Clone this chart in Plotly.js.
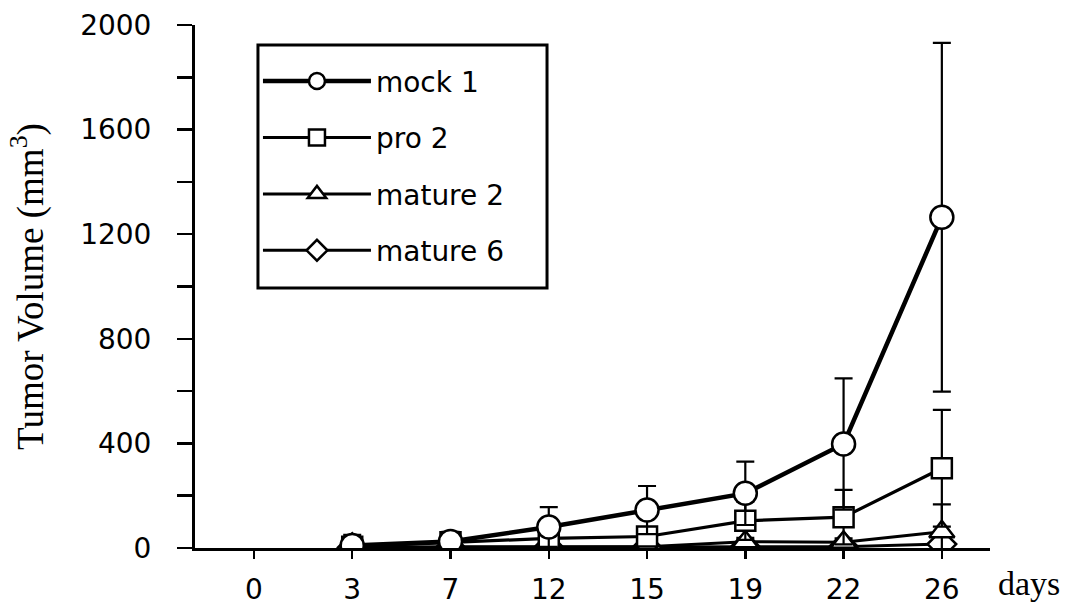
<!DOCTYPE html>
<html>
<head>
<meta charset="utf-8">
<script src="https://cdn.plot.ly/plotly-3.0.1.min.js"></script>
<style>
  html, body { margin: 0; padding: 0; background: #fff; }
  #chart { width: 1074px; height: 605px; }
</style>
</head>
<body>
<div id="chart"></div>
<script>
// Days (category tick labels)
const days = ['0', '3', '7', '12', '15', '19', '22', '26'];

// Tumor volume (mm^3) means and error bars; day 0 has no plotted point
const mock1     = [null, 10, 25, 80, 145, 209, 398, 1265];
const mock1Err  = [null, 40, 37, 76, 92, 121, 251, 667];
const pro2      = [null, 5, 22, 37, 44, 104, 118, 305];
const pro2Err   = [null, 5, 12, 12, 12, 73, 104, 223];
const mature2    = [null, 2, 5, 5, 5, 24, 22, 62];
const mature2Err = [null, 2, 4, 4, 4, 15, 15, 105];
const mature6    = [null, 2, 3, 3, 3, 5, 5, 15];
const mature6Err = [null, 1, 2, 2, 2, 3, 3, 10];

const seriesNames = ['mock 1', 'pro 2', 'mature 2', 'mature 6'];
const yTicks = [0, 400, 800, 1200, 1600, 2000];

const labelFont = { family: 'DejaVu Sans, Arial, sans-serif', size: 28, color: '#000' };
const serifFont = 'Liberation Serif, Times New Roman, serif';

function makeTrace(name, rank, y, err, symbol, lw, size) {
  return {
    type: 'scatter',
    mode: 'lines+markers',
    name: name,
    legendgroup: name,
    legendrank: rank,
    x: days,
    y: y,
    connectgaps: false,
    line: { color: '#000', width: lw },
    marker: { symbol: symbol, size: size, color: '#fff', line: { color: '#000', width: 2.5 } },
    error_y: { type: 'data', array: err, visible: true, color: '#000', thickness: 2.2, width: 9 }
  };
}

// drawn bottom-up so mock 1 sits on top; legendrank keeps mock 1 first in the legend
const traces = [
  makeTrace(seriesNames[3], 4, mature6, mature6Err, 'diamond', 3, 22),
  makeTrace(seriesNames[2], 3, mature2, mature2Err, 'triangle-up', 3, 22),
  makeTrace(seriesNames[1], 2, pro2, pro2Err, 'square', 3.2, 20),
  makeTrace(seriesNames[0], 1, mock1, mock1Err, 'circle', 4.5, 23)
];

const layout = {
  width: 1074,
  height: 605,
  margin: { l: 195, r: 84, t: 25, b: 57 },
  paper_bgcolor: '#fff',
  plot_bgcolor: '#fff',
  showlegend: true,
  legend: {
    x: 0.0792, y: 0.94, xanchor: 'left', yanchor: 'top',
    bgcolor: 'rgba(0,0,0,0)', borderwidth: 0,
    font: labelFont,
    traceorder: 'grouped',
    tracegroupgap: 17,
    itemwidth: 108
  },
  shapes: [{
    type: 'rect', xref: 'paper', yref: 'paper', layer: 'below',
    x0: 0.0792, x1: 0.4428, y0: 0.4971, y1: 0.9618,
    line: { color: '#000', width: 3 }, fillcolor: 'rgba(0,0,0,0)'
  }],
  xaxis: {
    type: 'category',
    categoryorder: 'array',
    categoryarray: days,
    range: [-0.6, 7.49],
    showline: true, linecolor: '#000', linewidth: 3,
    showgrid: false, zeroline: false,
    ticks: 'outside', ticklen: 8, tickwidth: 2.5, tickcolor: '#000',
    ticklabelstandoff: 6,
    tickfont: labelFont
  },
  yaxis: {
    range: [0, 2000],
    tickmode: 'array',
    tickvals: yTicks,
    ticktext: yTicks.map(String),
    showline: true, linecolor: '#000', linewidth: 3,
    showgrid: false, zeroline: false,
    ticks: 'outside', ticklen: 15, tickwidth: 2.5, tickcolor: '#000',
    minor: { dtick: 200, ticks: 'outside', ticklen: 15, tickwidth: 2.5, tickcolor: '#000', showgrid: false },
    ticklabelstandoff: 20,
    tickfont: labelFont,
    title: {
      text: 'Tumor Volume (mm<sup>3</sup>)',
      font: { family: serifFont, size: 37, color: '#000' },
      standoff: 26
    }
  },
  annotations: [{
    text: 'days', xref: 'paper', yref: 'paper',
    x: 1.008, y: -0.068, xanchor: 'left', yanchor: 'middle',
    showarrow: false,
    font: { family: serifFont, size: 34, color: '#000' }
  }]
};

Plotly.newPlot('chart', traces, layout, { displayModeBar: false, staticPlot: true });
</script>
</body>
</html>
